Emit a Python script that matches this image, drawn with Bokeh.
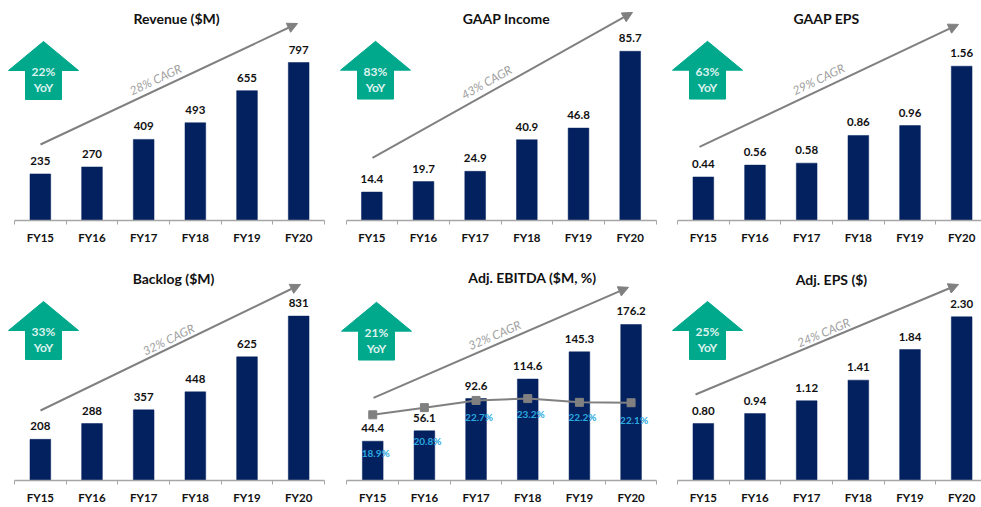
from bokeh.plotting import figure
from bokeh.layouts import column, row
from bokeh.models import Range1d, LinearAxis, FixedTicker, Arrow, NormalHead
from bokeh.core.properties import value
from bokeh.embed import file_html
from bokeh.resources import INLINE
import math

fiscal_years = ["FY15", "FY16", "FY17", "FY18", "FY19", "FY20"]

titles = ["Revenue ($M)", "GAAP Income", "GAAP EPS", "Backlog ($M)", "Adj. EBITDA ($M, %)", "Adj. EPS ($)"]

revenue = [235, 270, 409, 493, 655, 797]
gaap_income = [14.4, 19.7, 24.9, 40.9, 46.8, 85.7]
gaap_eps = [0.44, 0.56, 0.58, 0.86, 0.96, 1.56]
backlog = [208, 288, 357, 448, 625, 831]
adj_ebitda = [44.4, 56.1, 92.6, 114.6, 145.3, 176.2]
adj_eps = [0.80, 0.94, 1.12, 1.41, 1.84, 2.30]
ebitda_margin = [18.9, 20.8, 22.7, 23.2, 22.2, 22.1]

revenue_labels = ["235", "270", "409", "493", "655", "797"]
income_labels = ["14.4", "19.7", "24.9", "40.9", "46.8", "85.7"]
eps_labels = ["0.44", "0.56", "0.58", "0.86", "0.96", "1.56"]
backlog_labels = ["208", "288", "357", "448", "625", "831"]
ebitda_labels = ["44.4", "56.1", "92.6", "114.6", "145.3", "176.2"]
adj_eps_labels = ["0.80", "0.94", "1.12", "1.41", "1.84", "2.30"]
margin_labels = ["18.9%", "20.8%", "22.7%", "23.2%", "22.2%", "22.1%"]

cagr_labels = ["28% CAGR", "43% CAGR", "29% CAGR", "32% CAGR", "32% CAGR", "24% CAGR"]
yoy_labels = ["22%", "83%", "63%", "33%", "21%", "25%"]

# ---- layout (page pixels) -------------------------------------------------
FONT = "Lato"
NAVY, TEAL, GREY, LGREY, AXIS, CYAN, INK = "#03215F", "#00A88C", "#808080", "#A0A0A0", "#A6A6A6", "#2AA9E0", "#111111"
STEP = 51.67
BAR_PX = 20.7
fig_x = [0, 327, 657, 0, 327, 657]
fig_w = [327, 330, 324, 327, 330, 324]
fig_y = [0, 0, 0, 254, 254, 254]
fig_h = [254, 254, 254, 253, 253, 253]
base_px = [220, 221, 221, 480, 481, 480]
axis_left = [14, 345.5, 677, 14, 346.4, 677]
tallest_bar_px = [158, 170, 155, 164.4, 156.7, 163.7]
title_pos = [(176, 18), (506, 18), (826, 18), (173, 278), (532, 277), (831, 279)]
cagr_line = [((40, 144), (297, 23)), ((372, 158), (632, 12)), ((699, 147), (958, 24)),
             ((40, 410), (300, 284)), ((373, 398), (628, 287)), ((695, 394), (958, 284))]
cagr_text = [(155, 79), (486, 82), (818, 79), (168, 339), (494, 335), (823, 332)]
yoy_tip = [(43, 41), (375, 41), (707, 41), (43, 301), (376, 302), (707, 301)]
margin_dy = [38, 33, 17, 15, 15, 17]

series = [revenue, gaap_income, gaap_eps, backlog, adj_ebitda, adj_eps]
series_labels = [revenue_labels, income_labels, eps_labels, backlog_labels, ebitda_labels, adj_eps_labels]
figs = []
for i in range(6):
    vals = series[i]
    H = base_px[i] - fig_y[i]
    W = fig_w[i]
    x_start = (fig_x[i] - axis_left[i]) / STEP
    x_end = (fig_x[i] + W - axis_left[i]) / STEP
    y_end = vals[-1] * H / tallest_bar_px[i]

    def dx(px, a=axis_left[i]):
        return (px - a) / STEP

    def dy(py, b=base_px[i], top=y_end, h=H):
        return (b - py) / h * top

    p = figure(width=W, height=fig_h[i], output_backend="svg", toolbar_location=None,
               x_range=Range1d(x_start, x_end), y_range=Range1d(0, y_end),
               min_border_left=0, min_border_right=0, min_border_top=0,
               min_border_bottom=fig_h[i] - H, outline_line_color=None,
               x_axis_type=None, y_axis_type=None, background_fill_color="white")
    p.grid.visible = False

    centres = [k + 0.5 for k in range(6)]
    ax = LinearAxis(ticker=FixedTicker(ticks=centres, minor_ticks=list(range(7))),
                    major_label_overrides={c: fy for c, fy in zip(centres, fiscal_years)},
                    bounds=(0, 6), axis_line_color=AXIS, axis_line_width=1.5,
                    major_tick_in=0, major_tick_out=0, minor_tick_in=0, minor_tick_out=4,
                    minor_tick_line_color=AXIS, major_label_standoff=6,
                    major_label_text_font=FONT, major_label_text_font_style="bold",
                    major_label_text_font_size="11.5px", major_label_text_color=INK)
    p.add_layout(ax, "below")

    p.vbar(x=centres, top=vals, bottom=0, width=BAR_PX / STEP, fill_color=NAVY, line_color=NAVY, line_width=0.5)
    p.text(x=centres, y=vals, text=series_labels[i], y_offset=-13, text_align="center", text_baseline="middle",
           text_font=value(FONT), text_font_style="bold", text_font_size="11.5px", text_color=INK)

    # title
    p.text(x=[dx(title_pos[i][0])], y=[dy(title_pos[i][1])], text=[titles[i]], text_align="center", text_baseline="middle",
           text_font=value(FONT), text_font_style="bold", text_font_size="14px", text_color=INK)

    # CAGR arrow and label
    (x0, y0), (x1, y1) = cagr_line[i]
    p.add_layout(Arrow(end=NormalHead(size=10, fill_color=GREY, line_color=GREY),
                       x_start=dx(x0), y_start=dy(y0), x_end=dx(x1), y_end=dy(y1),
                       line_color=GREY, line_width=2))
    tx, ty = cagr_text[i]
    p.text(x=[dx(tx)], y=[dy(ty)], text=[cagr_labels[i]], angle=math.atan2(y0 - y1, x1 - x0),
           text_align="center", text_baseline="middle", text_font=value(FONT), text_font_style="italic",
           text_font_size="12px", text_color=LGREY)

    # YoY block arrow
    ux, uy = yoy_tip[i]
    shape = [(0, 0), (35, 29), (18, 29), (18, 58), (-18, 58), (-18, 29), (-35, 29)]
    p.patch([dx(ux + a) for a, _ in shape], [dy(uy + b) for _, b in shape], fill_color=TEAL, line_color=TEAL)
    p.text(x=[dx(ux), dx(ux)], y=[dy(uy + 30), dy(uy + 46)], text=[yoy_labels[i], "YoY"], text_align="center",
           text_baseline="middle", text_font=value(FONT), text_font_style="bold", text_font_size="12px",
           text_color="#DDF3EE")

    if i == 4:
        p.extra_y_ranges = {"pct": Range1d(1.49, 1.49 + H / 3.79)}
        p.line(centres, ebitda_margin, y_range_name="pct", line_color=GREY, line_width=2)
        p.scatter(centres, ebitda_margin, y_range_name="pct", marker="square", size=8, fill_color=GREY, line_color=GREY)
        p.text(x=centres, y=ebitda_margin, y_range_name="pct", text=margin_labels, x_offset=3,
               y_offset=margin_dy, text_align="center", text_baseline="middle",
               text_font=value(FONT), text_font_style="bold", text_font_size="10px", text_color=CYAN)
    figs.append(p)

layout = column(row(figs[0], figs[1], figs[2], spacing=0), row(figs[3], figs[4], figs[5], spacing=0),
                spacing=0)
open("out.html", "w").write(file_html(layout, INLINE))
